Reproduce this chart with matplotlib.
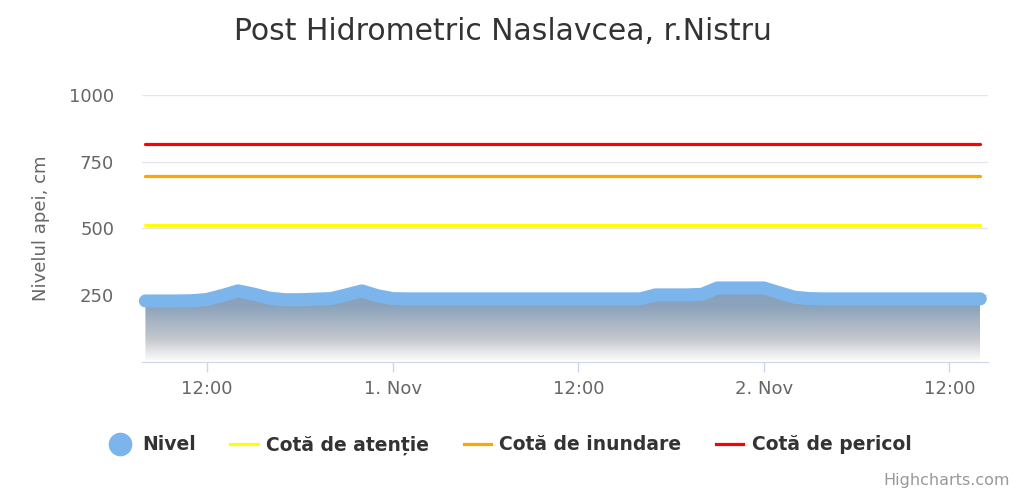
import numpy as np
import matplotlib
matplotlib.use("Agg")
import matplotlib.pyplot as plt
from matplotlib.colors import LinearSegmentedColormap
from matplotlib.lines import Line2D

# hours counted from 31 Oct 00:00
hours = list(range(8, 63))
nivel = ([227, 227, 227, 228, 233, 248, 265, 253, 238, 232, 232, 234, 236, 250, 265, 247, 236]
         + [235] * 16
         + [250, 250, 250, 252, 276, 276, 276, 276, 258, 241, 236]
         + [235] * 11)
cota_atentie = 511
cota_inundare = 696
cota_pericol = 817

y_ticks = [250, 500, 750, 1000]
x_ticks = [12, 24, 36, 48, 60]
x_labels = ["12:00", "1. Nov", "12:00", "2. Nov", "12:00"]

fig = plt.figure(figsize=(10.24, 4.94), dpi=100)
ax = fig.add_axes([142 / 1024, 0.2682, 846 / 1024, 0.8077 - 0.2682])

x = np.array(hours)
y = np.array(nivel)

# gradient area under the level line
poly = ax.fill_between(x, 0, y, color="none", lw=0)
cmap = LinearSegmentedColormap.from_list(
    "fade", [(0, "#ffffff"), (0.3, "#c6c9ce"), (0.75, "#8ca3bb"), (1, "#86a0ba")])
grad = np.linspace(0, 1, 256).reshape(-1, 1)
img = ax.imshow(grad, cmap=cmap, aspect="auto", origin="lower",
                extent=[x[0], x[-1], 0, y.max()], zorder=1)
img.set_clip_path(poly.get_paths()[0], transform=ax.transData)

ax.plot(x, y, color="#7cb5ec", lw=9.4, solid_capstyle="round",
        solid_joinstyle="round", zorder=3, clip_on=False)
ax.plot([x[0], x[-1]], [cota_atentie] * 2, color="#ffff00", lw=2.3,
        solid_capstyle="round", zorder=3)
ax.plot([x[0], x[-1]], [cota_inundare] * 2, color="#ffa500", lw=2.3,
        solid_capstyle="round", zorder=3)
ax.plot([x[0], x[-1]], [cota_pericol] * 2, color="#ff0000", lw=2.3,
        solid_capstyle="round", zorder=3)

ax.set_xlim(7.78, 62.5)
ax.set_ylim(0, 1000)
ax.set_yticks(y_ticks)
ax.set_xticks(x_ticks)
ax.set_xticklabels(x_labels)
ax.grid(axis="y", color="#e6e6e6", lw=1)
ax.set_axisbelow(True)
for side in ["top", "right", "left"]:
    ax.spines[side].set_visible(False)
ax.spines["bottom"].set_color("#ccd6eb")
ax.spines["bottom"].set_zorder(4)
ax.tick_params(axis="y", length=0, pad=20, labelsize=13, labelcolor="#666666")
ax.tick_params(axis="x", length=7, width=1, color="#ccd6eb", pad=6,
               labelsize=13, labelcolor="#666666")
ax.set_ylabel("Nivelul apei, cm", fontsize=13, color="#666666", labelpad=14)

fig.text(503 / 1024, 1 - 32 / 494, "Post Hidrometric Naslavcea, r.Nistru",
         ha="center", va="center", fontsize=21.5, color="#333333")

handles = [
    Line2D([], [], marker="o", ls="none", color="#7cb5ec", markersize=16),
    Line2D([], [], color="#ffff00", lw=2.3),
    Line2D([], [], color="#ffa500", lw=2.3),
    Line2D([], [], color="#ff0000", lw=2.3),
]
labels = ["Nivel", "Cotă de atenție", "Cotă de inundare", "Cotă de pericol"]
leg = fig.legend(handles, labels, loc="center", bbox_to_anchor=(509 / 1024, 1 - 445 / 494),
                 ncol=4, frameon=False, handlelength=1.45, handletextpad=0.45,
                 columnspacing=1.85, prop={"weight": "bold", "size": 13.5})
for t in leg.get_texts():
    t.set_color("#333333")

fig.text(1010 / 1024, 1 - 480 / 494, "Highcharts.com", ha="right", va="center",
         fontsize=11.5, color="#999999")

fig.savefig("out.png", dpi=100)
